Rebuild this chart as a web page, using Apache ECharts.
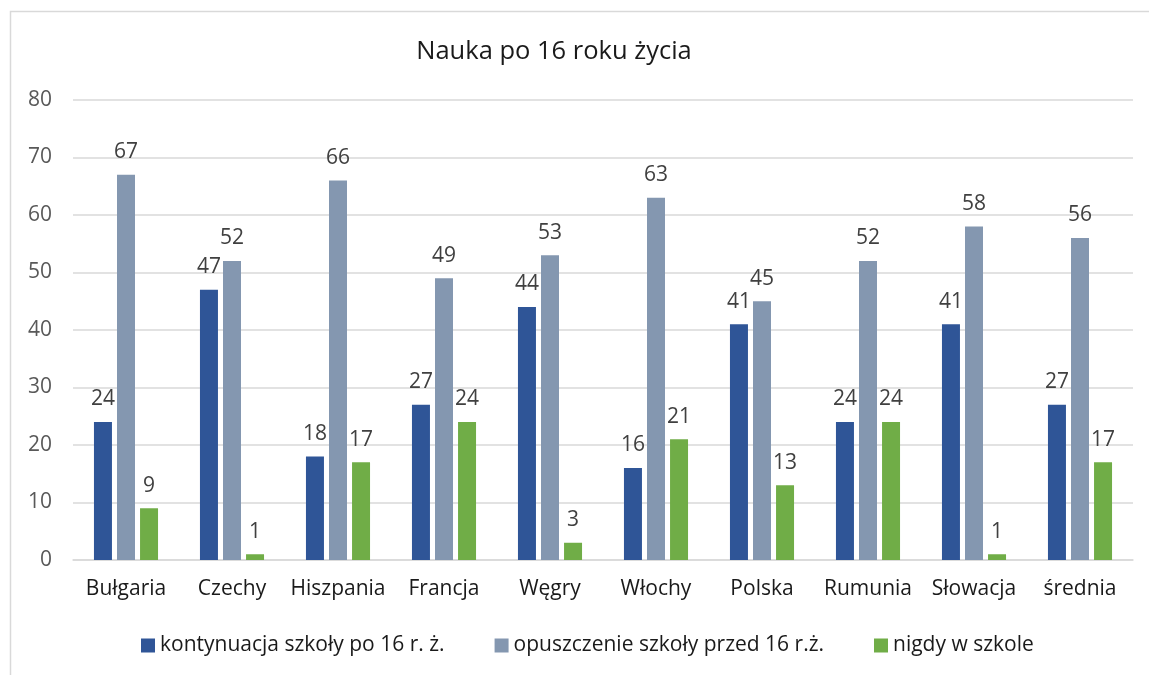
<!DOCTYPE html>
<html>
<head>
<meta charset="utf-8">
<script src="https://cdn.jsdelivr.net/npm/echarts@6/dist/echarts.min.js"></script>
<style>
html, body { margin: 0; padding: 0; background: #fff; }
#chart { width: 1149px; height: 675px; }
</style>
</head>
<body>
<div id="chart"></div>
<script>
const countries = ['Bułgaria', 'Czechy', 'Hiszpania', 'Francja', 'Węgry', 'Włochy', 'Polska', 'Rumunia', 'Słowacja', 'średnia']
const kontynuacja = [24, 47, 18, 27, 44, 16, 41, 24, 41, 27]
const opuszczenie = [67, 52, 66, 49, 53, 63, 45, 52, 58, 56]
const nigdy = [9, 1, 17, 24, 3, 21, 13, 24, 1, 17]
const seriesNames = ['kontynuacja szkoły po 16 r. ż.', 'opuszczenie szkoły przed 16 r.ż.', 'nigdy w szkole']

const font = '"Open Sans", sans-serif'

const barLabel = {
	show: true,
	position: 'top',
	distance: 12,
	color: '#404040',
	fontSize: 21,
	fontFamily: font,
}

const makeSeries = (name, data, color) => ({
	name: name,
	type: 'bar',
	data: data,
	barWidth: 18,
	barGap: '28%',
	itemStyle: { color: color },
	label: barLabel,
})

const myChart = echarts.init(document.getElementById('chart'))
myChart.setOption({
	animation: false,
	title: {
		text: 'Nauka po 16 roku życia',
		left: 549,
		textAlign: 'center',
		top: 34,
		textStyle: {
			fontFamily: font,
			fontSize: 25.5,
			fontWeight: 'normal',
			color: '#1a1a1a',
		},
	},
	graphic: [
		{
			type: 'rect',
			shape: { x: 10.5, y: 11.5, width: 1200, height: 700 },
			style: { fill: 'none', stroke: '#d9d9d9', lineWidth: 1.5 },
			silent: true,
		},
	],
	legend: {
		bottom: 14,
		left: 136,
		itemWidth: 14,
		itemHeight: 14,
		itemGap: 50,
		icon: 'rect',
		textStyle: {
			fontFamily: font,
			fontSize: 21,
			color: '#1a1a1a',
		},
		data: seriesNames,
	},
	grid: {
		left: 73,
		right: 16,
		top: 100,
		bottom: 115,
	},
	xAxis: {
		type: 'category',
		data: countries,
		axisLine: { lineStyle: { color: '#d9d9d9', width: 1.5 } },
		axisTick: { show: false },
		axisLabel: {
			interval: 0,
			fontFamily: font,
			fontSize: 21,
			color: '#1a1a1a',
			margin: 19,
		},
	},
	yAxis: {
		type: 'value',
		min: 0,
		max: 80,
		interval: 10,
		axisLine: { show: false },
		axisTick: { show: false },
		splitLine: { lineStyle: { color: '#d9d9d9', width: 1.5 } },
		axisLabel: {
			fontFamily: font,
			fontSize: 21,
			color: '#595959',
			margin: 21,
		},
	},
	series: [
		makeSeries(seriesNames[0], kontynuacja, '#2f5597'),
		makeSeries(seriesNames[1], opuszczenie, '#8497b0'),
		makeSeries(seriesNames[2], nigdy, '#70ad47'),
	],
})
</script>
</body>
</html>
